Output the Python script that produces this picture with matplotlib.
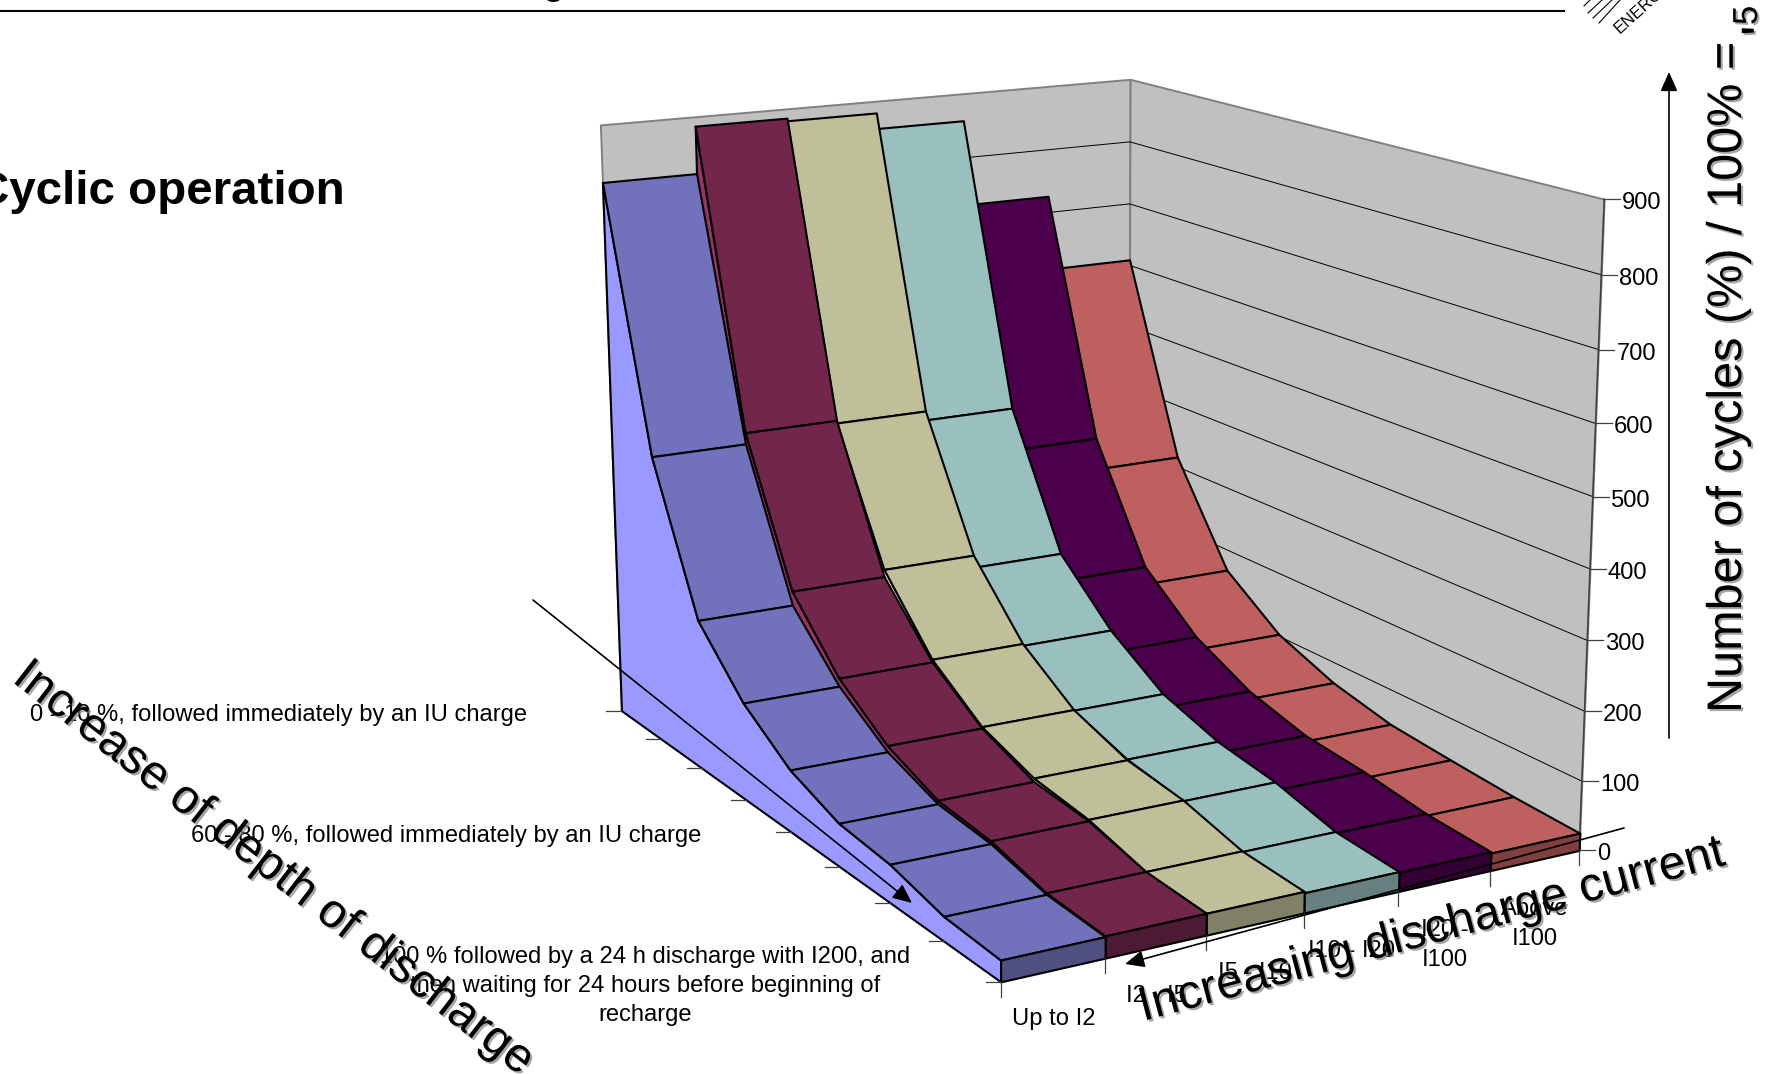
import numpy as np
import matplotlib
matplotlib.use('Agg')
import matplotlib.pyplot as plt
import matplotlib.patheffects as pe
from mpl_toolkits.mplot3d.art3d import Poly3DCollection

plt.rcParams['font.family'] = ['Liberation Sans', 'DejaVu Sans']

#-- Data: cycles per depth-of-discharge step, one list per current class
up_to_i2 = [815, 434, 225, 144, 91, 62, 54, 34, 29]
i2_i5 = [886, 451, 246, 156, 100, 67, 58, 36, 30]
i5_i10 = [882, 447, 257, 160, 102, 72, 60, 36, 30]
i10_i20 = [858, 433, 238, 157, 101, 73, 59, 35, 28]
i20_i100 = [726, 366, 195, 123, 80, 56, 47, 33, 27]
above_i100 = [609, 316, 167, 103, 68, 47, 38, 30, 25]
series = [up_to_i2, i2_i5, i5_i10, i10_i20, i20_i100, above_i100]

current_labels = ['Up to I2', 'I2 - I5', 'I5 - I10', 'I10 - I20', 'I20 -\nI100', 'Above\nI100']
depth_labels = {
    0: '0 - 10 %, followed immediately by an IU charge',
    4: '60 - 80 %, followed immediately by an IU charge',
    8: '100 % followed by a 24 h discharge with I200, and\n'
       'then waiting for 24 hours before beginning of\nrecharge',
}
cycle_ticks = [0, 100, 200, 300, 400, 500, 600, 700, 800, 900]

top_colors = ['#7272BC', '#73264C', '#BFBF99', '#99BFBF', '#4C004C', '#BF6060']
side_colors = ['#9999FF', '#993366', '#FFFFCC', '#CCFFFF', '#660066', '#FF8080']
front_colors = ['#4F4F80', '#4D1A33', '#808066', '#668080', '#330033', '#804040']

W, H = 1769, 1074
NX, ND = 6, 8
LABEL_SIZE = 17.1

# Camera of the original 3D chart, (current, depth, cycles, 1) -> pixel (y down)
CAMERA = np.array([
    [99.90350, 23.96414, -0.0523022, 621.45903],
    [-6.19033, 10.89665, -0.6568477, 710.65778],
    [0.0136585, -0.0234285, -0.0000481, 1.0]])
PIX_TO_DISPLAY = np.array([[1, 0, 0], [0, -1, H], [0, 0, 1.0]])


def pixel(x, d, z):
    h = CAMERA @ np.array([x, d, z, 1.0])
    return h[0] / h[2], h[1] / h[2]


def add_face(ax, verts, color, edge, lw, zorder):
    poly = Poly3DCollection([verts], facecolors=color, edgecolors=edge, linewidths=lw, zorder=zorder)
    ax.add_collection3d(poly)


def draw_walls(ax):
    add_face(ax, [(0, 0, 0), (NX, 0, 0), (NX, 0, 900), (0, 0, 900)], '#C0C0C0', '#808080', 1.4, 1)
    add_face(ax, [(NX, 0, 0), (NX, ND, 0), (NX, ND, 900), (NX, 0, 900)], '#C0C0C0', '#808080', 1.4, 1)
    for z in cycle_ticks[1:-1]:
        ax.plot([0, NX, NX], [0, 0, ND], [z, z, z], color='k', lw=0.7, zorder=2)
    ax.plot([NX, NX], [ND, ND], [0, 900], color='#404040', lw=1.1, zorder=3)


def draw_ribbons(ax):
    lw = 1.5
    zorder = 10
    # right to left, the camera looks from the left
    for i in reversed(range(NX)):
        z = series[i]
        side = [(i, 0, 0)] + [(i, d, z[d]) for d in range(ND + 1)] + [(i, ND, 0)]
        add_face(ax, side, side_colors[i], 'k', lw, zorder)
        zorder += 1
        for d in range(ND):
            strip = [(i, d, z[d]), (i + 1, d, z[d]), (i + 1, d + 1, z[d + 1]), (i, d + 1, z[d + 1])]
            add_face(ax, strip, top_colors[i], 'k', lw, zorder)
            zorder += 1
        front = [(i, ND, 0), (i + 1, ND, 0), (i + 1, ND, z[ND]), (i, ND, z[ND])]
        add_face(ax, front, front_colors[i], 'k', lw, zorder)
        zorder += 1


def draw_axis_text(ov):
    tick = dict(color='#404040', lw=0.9)
    # cycles axis
    for z in cycle_ticks:
        px, py = pixel(NX, ND, z)
        ov.plot([px, px + 16], [py, py], **tick)
        ov.text(px + 18, py + 4, str(z), ha='left', va='center', fontsize=LABEL_SIZE)
    # current axis
    for i in range(NX + 1):
        px, py = pixel(i, ND, 0)
        ov.plot([px, px], [py, py + 15], **tick)
    for i, name in enumerate(current_labels):
        px, py = pixel(i + 0.5, ND, 0)
        ov.text(px, py + 38, name, ha='center', va='top', fontsize=LABEL_SIZE, linespacing=1.45)
    # depth axis
    for d in range(ND + 1):
        px, py = pixel(0, d, 0)
        ov.plot([px - 15, px], [py, py], **tick)
    centres = {0: (279, 715), 4: (446, 836), 8: (645, 986)}
    for d, name in depth_labels.items():
        ov.text(centres[d][0], centres[d][1], name, ha='center', va='center', fontsize=LABEL_SIZE, linespacing=1.42)


def draw_annotations(ov):
    shadow = [pe.withSimplePatchShadow(offset=(1.5, -1.5), shadow_rgbFace='#808080', alpha=0.7)]
    big = dict(fontsize=35, rotation_mode='anchor', ha='left', va='baseline', path_effects=shadow)
    ov.text(1741, 713, 'Number of cycles (%) / 100% =', rotation=90, **big)
    ov.text(1780, 36, "'", rotation=90, fontsize=40, rotation_mode='anchor', ha='left', va='baseline', path_effects=shadow)
    ov.text(1757, 25, '5', rotation=90, fontsize=25, rotation_mode='anchor', ha='left', va='baseline', path_effects=shadow)
    big['fontsize'] = 34.5
    ov.text(11, 681, 'Increase of depth of discharge', rotation=-37.8, **big)
    ov.text(1143, 1021, 'Increasing discharge current', rotation=15, **big)

    head = dict(arrowstyle='-|>,head_length=0.9,head_width=0.4', color='k', lw=1.2, shrinkA=0, shrinkB=0, mutation_scale=13)
    ov.annotate('', xy=(1669, 72), xytext=(1669, 738), arrowprops=head)
    ov.annotate('', xy=(912, 903), xytext=(533, 600), arrowprops=head)
    ov.annotate('', xy=(1125, 964), xytext=(1624, 828), arrowprops=head)

    # page furniture around the chart
    ov.plot([0, 1564], [11, 11], color='k', lw=1.5)
    ov.text(345, 204, 'Cyclic operation', ha='right', va='baseline', fontsize=34.2, fontweight='bold')
    ov.text(553, -6, 'g', ha='center', va='baseline', fontsize=28)
    for x0, y0, x1, y1 in [(1584, 6, 1590, 0), (1588, 13, 1602, 0), (1593, 18, 1612, 0), (1599, 23, 1620, 0)]:
        ov.plot([x0, x1], [y0, y1], color='k', lw=0.8)
    ov.text(1620, 34, 'ENERGY', rotation=42, rotation_mode='anchor', ha='left', va='baseline', fontsize=12)


def main():
    fig = plt.figure(figsize=(W / 100, H / 100), dpi=100)

    # square 3D axes large enough to hold the whole page
    ax = fig.add_axes([0, (H - W) / 2 / H, 1, W / H], projection='3d')
    ax.set_axis_off()
    ax.computed_zorder = False

    def camera_proj():
        top = ax.transData.inverted().get_matrix() @ PIX_TO_DISPLAY @ CAMERA
        return np.vstack([top[0], top[1], [0, 0, 0, -1], top[2]])
    ax.get_proj = camera_proj

    draw_walls(ax)
    draw_ribbons(ax)

    ov = fig.add_axes([0, 0, 1, 1], zorder=5)
    ov.set_xlim(0, W)
    ov.set_ylim(H, 0)
    ov.axis('off')
    draw_axis_text(ov)
    draw_annotations(ov)

    fig.savefig('out.png', dpi=100)


if __name__ == '__main__':
    main()
